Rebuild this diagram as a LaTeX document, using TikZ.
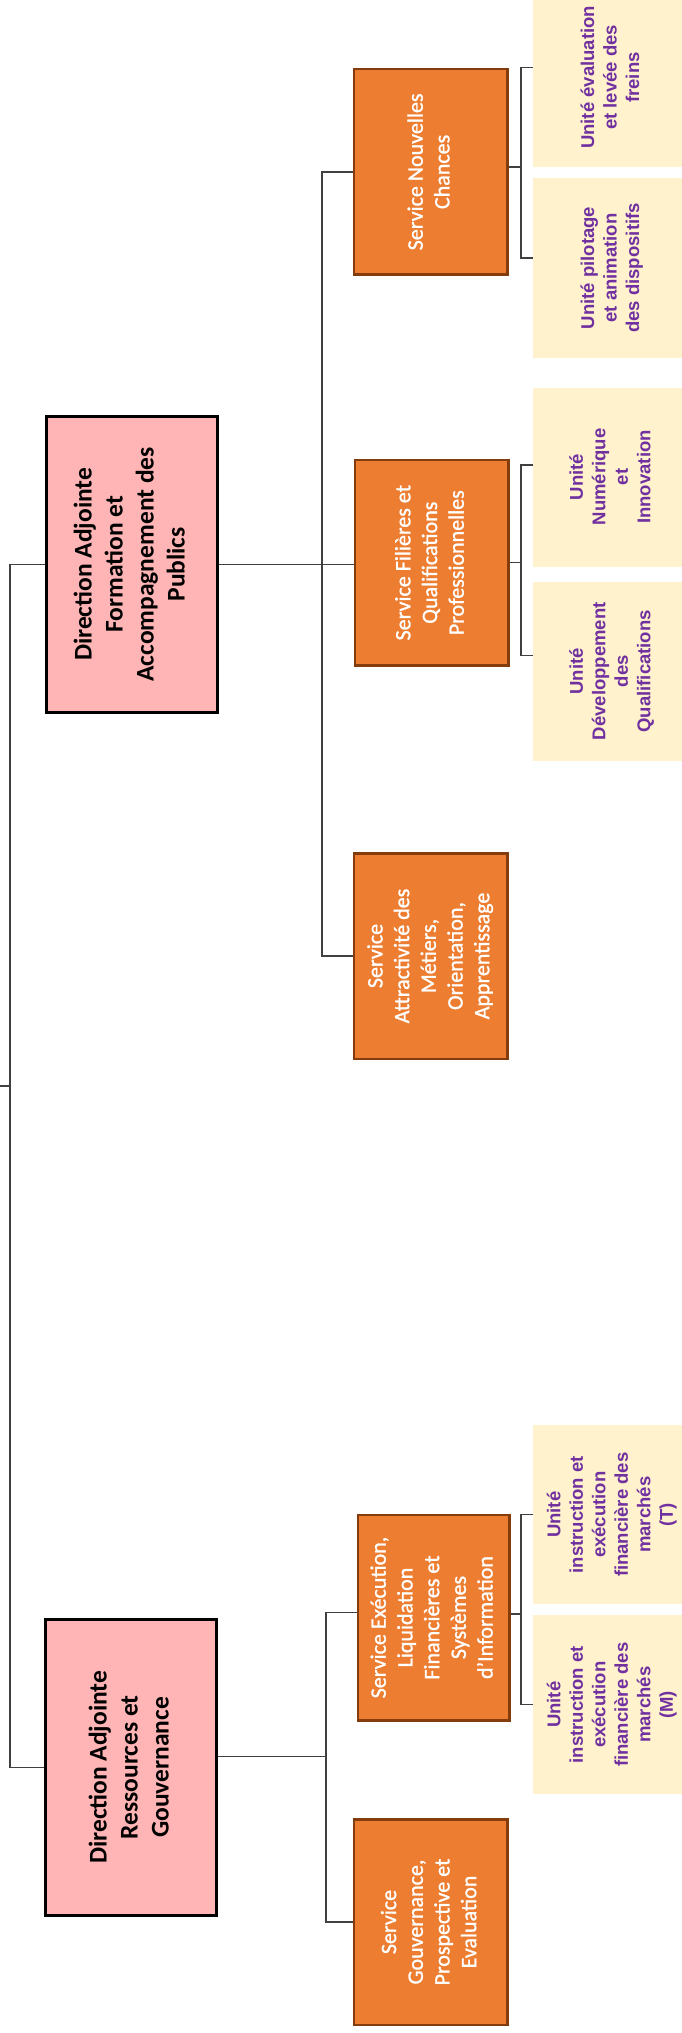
\documentclass[tikz,border=0pt]{standalone}
\usepackage{fontspec}
\setmainfont{Carlito}
\newfontfamily\arialfont{Liberation Sans}
\newfontfamily\servfont[FakeBold=1.2]{Carlito}
\definecolor{pinkfill}{RGB}{255,181,181}
\definecolor{orangefill}{RGB}{237,125,49}
\definecolor{orangeborder}{RGB}{132,60,12}
\definecolor{creamfill}{RGB}{255,242,204}
\definecolor{unitpurple}{RGB}{112,48,160}
\definecolor{linegray}{RGB}{64,64,64}
\newcommand{\vlines}[1]{\rotatebox{90}{\begin{tabular}{@{}c@{}}#1\end{tabular}}}
\tikzset{
  pinkbox/.style={draw=black, line width=3pt, fill=pinkfill, inner sep=0pt,
    minimum width=171pt, minimum height=296pt,
    font=\bfseries\fontsize{25.5}{31}\selectfont},
  orangebox/.style={draw=orangeborder, line width=2.5pt, fill=orangefill, text=white,
    inner sep=0pt, minimum width=153.5pt, minimum height=205.5pt,
    font=\servfont\fontsize{22}{26.7}\selectfont},
  creambox/.style={fill=creamfill, text=unitpurple, inner sep=0pt,
    minimum width=158pt, minimum height=179pt,
    font=\arialfont\bfseries\fontsize{18.5}{22.5}\selectfont},
  link/.style={draw=linegray, line width=1.3pt}
}
\begin{document}
\begin{tikzpicture}[x=1pt,y=-1pt]
\useasboundingbox (0,0) rectangle (682,2033);
\clip (0,0) rectangle (682,2033);
\fill[white] (0,0) rectangle (682,2033);

% deputy directions
\node[pinkbox] (pa1) at (132,564.4) {\vlines{Direction Adjointe\\Formation et\\Accompagnement des\\Publics}};
\node[pinkbox] (pa2) at (131.3,1767.3) {\vlines{Direction Adjointe\\Ressources et\\Gouvernance}};

% services
\node[orangebox] (nc) at (430.7,171.9) {\vlines{Service Nouvelles\\Chances}};
\node[orangebox] (sf) at (431.7,562.7) {\vlines{Service Filières et\\Qualifications\\Professionnelles}};
\node[orangebox] (attr) at (430.5,956) {\vlines{Service\\Attractivité des\\Métiers,\\Orientation,\\Apprentissage}};
\node[orangebox, minimum width=151.5pt] (exe) at (433.8,1617.5) {\vlines{Service Exécution,\\Liquidation\\Financières et\\Systèmes\\d’Information}};
\node[orangebox] (gov) at (430.8,1922) {\vlines{Service\\Gouvernance,\\Prospective et\\Evaluation}};

% units
\node[creambox] (u1) at (612,77.5) {\vlines{Unité évaluation\\et levée des\\freins}};
\node[creambox] (u2) at (612,268) {\vlines{Unité pilotage\\et animation\\des dispositifs}};
\node[creambox] (u3) at (612,477) {\vlines{Unité\\Numérique\\et\\Innovation}};
\node[creambox] (u4) at (612,671.3) {\vlines{Unité\\Développement\\des\\Qualifications}};
\node[creambox] (u5) at (612,1514.7) {\vlines{Unité\\instruction et\\exécution\\financière des\\marchés\\(T)}};
\node[creambox] (u6) at (612,1704.7) {\vlines{Unité\\instruction et\\exécution\\financière des\\marchés\\(M)}};

% bus coordinates
\coordinate (root) at (0,1086);
\coordinate (bL) at (10,0);
\coordinate (bA) at (322,0);
\coordinate (bB) at (326,0);
\coordinate (bU) at (521,0);

% top level
\draw[link] (root) -- (root -| bL);
\draw[link] (pa1.west) -- (pa1.west -| bL) -- (pa2.west -| bL) -- (pa2.west);

% direction 1
\draw[link] (pa1.east) -- (pa1.east -| sf.west);
\draw[link] (nc.west) -- (nc.west -| bA) -- (attr.west -| bA) -- (attr.west);

% direction 2
\coordinate (pa2out) at ([yshift=11pt]pa2.east);
\coordinate (exein) at ([yshift=5pt]exe.west);
\draw[link] (pa2out) -- (pa2out -| bB);
\draw[link] (exein) -- (exein -| bB) -- (gov.west -| bB) -- (gov.west);

% units of Nouvelles Chances
\coordinate (ncout) at ([yshift=5pt]nc.east);
\coordinate (u1in) at ([yshift=10pt]u1.west);
\coordinate (u2in) at ([yshift=10pt]u2.west);
\draw[link] (ncout) -- (ncout -| bU);
\draw[link] (u1in) -- (u1in -| bU) -- (u2in -| bU) -- (u2in);

% units of Filieres
\coordinate (u3in) at ([yshift=12pt]u3.west);
\coordinate (u4in) at ([yshift=15.6pt]u4.west);
\draw[link] (sf.east) -- (sf.east -| bU);
\draw[link] (u3in) -- (u3in -| bU) -- (u4in -| bU) -- (u4in);

% units of Execution
\coordinate (exeout) at ([yshift=3.5pt]exe.east);
\draw[link] (exeout) -- (exeout -| bU);
\draw[link] (u5.west) -- (u5.west -| bU) -- (u6.west -| bU) -- (u6.west);
\end{tikzpicture}
\end{document}
